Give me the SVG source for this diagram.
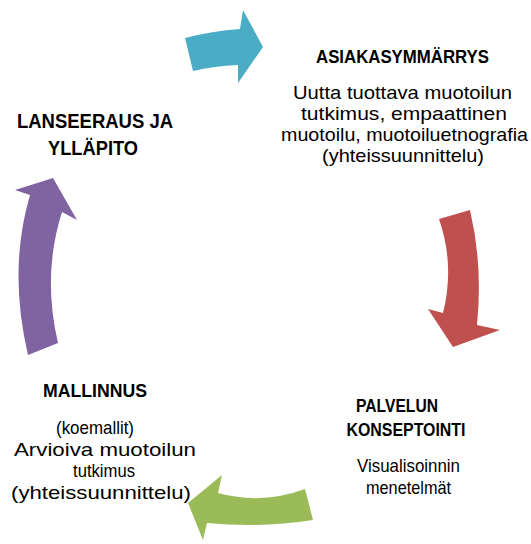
<svg xmlns="http://www.w3.org/2000/svg" width="531" height="544" viewBox="0 0 531 544">
<style>
text{font-family:"Liberation Sans",Arial,sans-serif;fill:#000;text-anchor:middle}
.h{font-weight:bold;font-size:17.5px}
.hb{font-weight:bold;font-size:21px}
.t{font-size:18.5px}
</style>
<rect width="531" height="544" fill="#fff"/>
<g id="connectors">
<path id="arrow-blue" fill="#4bacc6" d="M185,38 Q212,31 240,29 L243,10 L263,47 L238,83 L238,65 Q214,66 193,71 Z"/>
<path id="arrow-red" fill="#c0504d" d="M439,219 L470,210 Q483,265 477,325 L500,330 L453,347 L428,309 L443,313 Q455,265 439,219 Z"/>
<path id="arrow-green" fill="#9bbb59" d="M305,489 Q262,505 218,493 L222,475 L188,503 L203,540 L207,523 Q262,528 313,520 Z"/>
<path id="arrow-purple" fill="#8064a2" d="M28,355 Q8,270 30,195 L15,190 L53,178 L77,220 L62,212 Q42,275 58,343 Z"/>
</g>
<g id="node-asiakasymmarrys">
<text class="h" x="402.5" y="63" textLength="173" lengthAdjust="spacingAndGlyphs">ASIAKASYMMÄRRYS</text>
<text class="t" x="402.5" y="99" textLength="219" lengthAdjust="spacingAndGlyphs">Uutta tuottava muotoilun</text>
<text class="t" x="404" y="120" textLength="206" lengthAdjust="spacingAndGlyphs">tutkimus, empaattinen</text>
<text class="t" x="404.5" y="141" textLength="247" lengthAdjust="spacingAndGlyphs">muotoilu, muotoiluetnografia</text>
<text class="t" x="403" y="162" textLength="162" lengthAdjust="spacingAndGlyphs">(yhteissuunnittelu)</text>
</g>
<g id="node-palvelun-konseptointi">
<text class="h" x="397" y="412" textLength="82" lengthAdjust="spacingAndGlyphs">PALVELUN</text>
<text class="h" x="406" y="436" textLength="119" lengthAdjust="spacingAndGlyphs">KONSEPTOINTI</text>
<text class="t" x="408.5" y="472" textLength="103" lengthAdjust="spacingAndGlyphs">Visualisoinnin</text>
<text class="t" x="408.5" y="494" textLength="85" lengthAdjust="spacingAndGlyphs">menetelmät</text>
</g>
<g id="node-mallinnus">
<text class="h" x="95" y="397" textLength="104" lengthAdjust="spacingAndGlyphs">MALLINNUS</text>
<text class="t" x="95" y="434" textLength="78" lengthAdjust="spacingAndGlyphs">(koemallit)</text>
<text class="t" x="105" y="456" textLength="182" lengthAdjust="spacingAndGlyphs">Arvioiva muotoilun</text>
<text class="t" x="104" y="477" textLength="62" lengthAdjust="spacingAndGlyphs">tutkimus</text>
<text class="t" x="101" y="499" textLength="180" lengthAdjust="spacingAndGlyphs">(yhteissuunnittelu)</text>
</g>
<g id="node-lanseeraus">
<text class="hb" x="95" y="128" textLength="156" lengthAdjust="spacingAndGlyphs">LANSEERAUS JA</text>
<text class="hb" x="93" y="155" textLength="90" lengthAdjust="spacingAndGlyphs">YLLÄPITO</text>
</g>
</svg>
